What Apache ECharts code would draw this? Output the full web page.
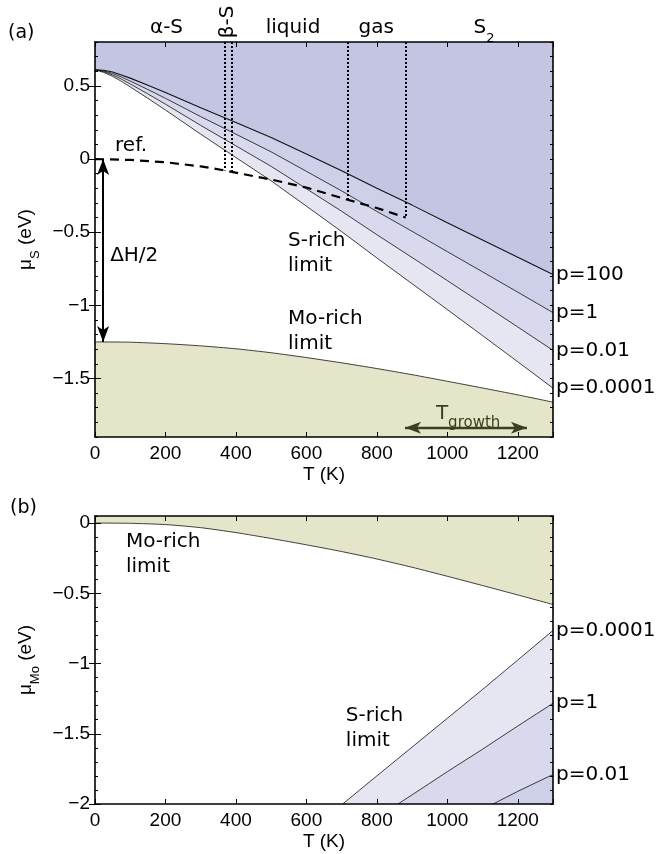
<!DOCTYPE html>
<html>
<head>
<meta charset="utf-8">
<script src="https://cdn.jsdelivr.net/npm/echarts@6/dist/echarts.min.js"></script>
<style>
  html, body { margin: 0; padding: 0; background: #fff; }
  #chart { width: 660px; height: 854px; }
</style>
</head>
<body>
<div id="chart"></div>
<script>
// ---- panel (a): sulfur chemical potential vs T ----
var tA = [0, 25, 50, 75, 100, 150, 200, 300, 400, 500, 600, 700, 800, 900, 1000, 1100, 1200, 1300];
var muS_p100   = [0.61, 0.607, 0.595, 0.575, 0.553, 0.505, 0.455, 0.35, 0.25, 0.148, 0.035, -0.08, -0.2, -0.315, -0.435, -0.553, -0.672, -0.79];
var muS_p1     = [0.61, 0.602, 0.585, 0.561, 0.533, 0.475, 0.415, 0.29, 0.17, 0.049, -0.084, -0.218, -0.358, -0.494, -0.633, -0.771, -0.91, -1.05];
var muS_p001   = [0.61, 0.597, 0.575, 0.546, 0.513, 0.445, 0.375, 0.23, 0.09, -0.05, -0.203, -0.357, -0.517, -0.673, -0.831, -0.989, -1.148, -1.308];
var muS_p00001 = [0.61, 0.592, 0.565, 0.531, 0.493, 0.415, 0.335, 0.17, 0.01, -0.149, -0.322, -0.496, -0.676, -0.852, -1.029, -1.207, -1.386, -1.566];

var tRef = [0, 100, 200, 300, 368, 388, 500, 600, 717, 800, 882];
var muS_ref = [0, -0.006, -0.022, -0.05, -0.078, -0.088, -0.14, -0.195, -0.278, -0.335, -0.40];

var tMo = [0, 100, 200, 300, 400, 500, 600, 700, 800, 900, 1000, 1100, 1200, 1300];
var muS_MoRich = [-1.25, -1.252, -1.262, -1.277, -1.297, -1.324, -1.357, -1.393, -1.432, -1.474, -1.519, -1.565, -1.612, -1.662];

var phaseT = [368, 388, 717, 882];
var phaseMu = [-0.078, -0.088, -0.278, -0.40];
var phaseNames = ['α-S', 'β-S', 'liquid', 'gas', 'S2'];

var deltaH2 = -1.25;
var tGrowth = [880, 1226];

// ---- panel (b): molybdenum chemical potential vs T ----
var tB_p00001 = [703, 800, 900, 1000, 1100, 1200, 1300];
var muMo_p00001 = [-2, -1.80, -1.595, -1.39, -1.185, -0.975, -0.765];
var tB_p1 = [860, 900, 1000, 1100, 1200, 1300];
var muMo_p1 = [-2, -1.935, -1.77, -1.61, -1.445, -1.283];
var tB_p001 = [1130, 1200, 1300];
var muMo_p001 = [-2, -1.91, -1.79];
var muMo_MoRich = [0, -0.002, -0.011, -0.033, -0.068, -0.11, -0.155, -0.203, -0.256, -0.315, -0.379, -0.445, -0.512, -0.58];

var yTicksA = [0.5, 0, -0.5, -1, -1.5];
var yTicksB = [0, -0.5, -1, -1.5, -2];

function zip(t, v) { return t.map(function (x, i) { return [x, v[i]]; }); }
function minus(v) { return String(v).replace('-', '\u2212'); }

var band = ['#e6e6f3', '#d9d9ed', '#cecfe8', '#c4c5e3'];
var olive = '#e5e6c9';
var tickFont = 'Liberation Sans';
var noteFont = 'DejaVu Sans';

function xAxes(g) {
  var base = {
    gridIndex: g, type: 'value', min: 0, max: 1300, interval: 200, z: 10,
    axisLine: { show: true, onZero: false, lineStyle: { color: '#000', width: 1.6 } },
    axisTick: { inside: true, length: 5, lineStyle: { color: '#000', width: 1 } },
    splitLine: { show: false }
  };
  var bottom = Object.assign({}, base, {
    position: 'bottom',
    axisLabel: { fontSize: 19, fontFamily: tickFont, color: '#000', margin: 7,
      formatter: function (v) { return v % 200 === 0 ? String(v) : ''; } },
    name: 'T (K)', nameLocation: 'middle', nameGap: 28,
    nameTextStyle: { fontSize: 19, fontFamily: tickFont, color: '#000' }
  });
  var top = Object.assign({}, base, { position: 'top', axisLabel: { show: false } });
  return [bottom, top];
}

function yAxes(g, min, max, labels, name) {
  var base = {
    gridIndex: g, type: 'value', min: min, max: max, interval: 0.1, z: 10,
    axisLine: { show: true, onZero: false, lineStyle: { color: '#000', width: 1.6 } },
    axisTick: { inside: true, length: 3, lineStyle: { color: '#000', width: 1 } },
    splitLine: { show: false }
  };
  var left = Object.assign({}, base, {
    position: 'left',
    axisLabel: { customValues: labels, fontSize: 19, fontFamily: tickFont, color: '#000', margin: 5, formatter: minus },
    name: name, nameLocation: 'middle', nameRotate: 90, nameGap: 48,
    nameTextStyle: {
      fontSize: 19, fontFamily: tickFont, color: '#000',
      rich: {
        m: { fontSize: 19, fontFamily: tickFont, lineHeight: 22, verticalAlign: 'middle' },
        s: { fontSize: 13, fontFamily: tickFont, lineHeight: 32, verticalAlign: 'bottom' }
      }
    }
  });
  var right = Object.assign({}, base, { position: 'right', axisLabel: { show: false } });
  var major = {
    gridIndex: g, type: 'value', min: min, max: max, z: 10,
    axisLine: { show: false }, axisLabel: { show: false }, splitLine: { show: false },
    axisTick: { inside: true, length: 6, customValues: labels, lineStyle: { color: '#000', width: 1 } }
  };
  return [left, right, Object.assign({ position: 'left' }, major), Object.assign({ position: 'right' }, major)];
}

function curve(xi, yi, name, data, fill, origin, width, smooth) {
  return {
    name: name, type: 'line', xAxisIndex: xi, yAxisIndex: yi, data: data,
    symbol: 'none', silent: true, z: 2, smooth: smooth || false,
    lineStyle: { color: '#111', width: width || 0.8 },
    areaStyle: { color: fill, opacity: 1, origin: origin }
  };
}

var dotted = phaseT.map(function (t, i) {
  return [{ coord: [t, 0.8] }, { coord: [t, phaseMu[i]] }];
});

var option = {
  animation: false,
  backgroundColor: '#fff',
  textStyle: { fontFamily: tickFont },
  grid: [
    { left: 95, top: 42, width: 458, height: 395 },
    { left: 95, top: 516, width: 458, height: 288 }
  ],
  xAxis: xAxes(0).concat(xAxes(1)),
  yAxis: yAxes(0, -1.9, 0.8, yTicksA, '{m|μ}{s|S}{m| (eV)}')
    .concat(yAxes(1, -2, 0.05, yTicksB, '{m|μ}{s|Mo}{m| (eV)}')),
  series: [
    curve(0, 0, 'p=0.0001', zip(tA, muS_p00001), band[0], 'end'),
    curve(0, 0, 'p=0.01', zip(tA, muS_p001), band[1], 'end'),
    curve(0, 0, 'p=1', zip(tA, muS_p1), band[2], 'end'),
    curve(0, 0, 'p=100', zip(tA, muS_p100), band[3], 'end', 1.1),
    curve(0, 0, 'Mo-rich', zip(tMo, muS_MoRich), olive, 'start', 0.8, 0.2),
    {
      name: 'ref.', type: 'line', xAxisIndex: 0, yAxisIndex: 0, data: zip(tRef, muS_ref),
      symbol: 'none', silent: true, z: 3,
      lineStyle: { color: '#000', width: 2.2, type: [9, 6] },
      markLine: {
        silent: true, symbol: 'none', label: { show: false },
        lineStyle: { color: '#000', width: 2, type: [2, 2] },
        data: dotted
      }
    },
    {
      name: 'arrows', type: 'line', xAxisIndex: 0, yAxisIndex: 0, data: [], z: 4,
      markLine: {
        silent: true, label: { show: false }, symbol: ['arrow', 'arrow'], symbolSize: [9, 16],
        data: [
          [{ coord: [23, 0], lineStyle: { color: '#000', width: 2, type: 'solid' } },
           { coord: [23, deltaH2] }],
          [{ coord: [tGrowth[0], -1.836], lineStyle: { color: '#3b4120', width: 2.4, type: 'solid' },
             itemStyle: { color: '#3b4120' } },
           { coord: [tGrowth[1], -1.836] }]
        ]
      }
    },
    curve(2, 4, 'b p=0.0001', zip(tB_p00001, muMo_p00001), band[0], 'start'),
    curve(2, 4, 'b p=1', zip(tB_p1, muMo_p1), band[1], 'start'),
    curve(2, 4, 'b p=0.01', zip(tB_p001, muMo_p001), band[2], 'start'),
    curve(2, 4, 'b Mo-rich', zip(tMo, muMo_MoRich), olive, 'end', 0.8, 0.2)
  ]
};

var chart = echarts.init(document.getElementById('chart'));
chart.setOption(option);

function pa(t, v) { return chart.convertToPixel({ xAxisIndex: 0, yAxisIndex: 0 }, [t, v]); }
function pb(t, v) { return chart.convertToPixel({ xAxisIndex: 2, yAxisIndex: 4 }, [t, v]); }
function note(p, text, align, size) {
  return {
    type: 'text', x: p[0], y: p[1], silent: true, z: 100,
    style: { text: text, font: (size || 20) + 'px "' + noteFont + '"', fill: '#000',
      align: align || 'left', verticalAlign: 'middle', lineHeight: 25 }
  };
}

var topY = pa(0, 0.8)[1] - 14;
var g = [];
g.push(note([8, 33], '(a)', 'left', 19));
g.push(note([10, 508], '(b)', 'left', 19));
g.push(note([pa(203, 0)[0], topY], phaseNames[0], 'center'));
g.push({ type: 'text', x: pa(377, 0)[0], y: topY - 6, rotation: Math.PI / 2, silent: true, z: 100,
  style: { text: phaseNames[1], font: '20px "' + noteFont + '"', fill: '#000', align: 'center', verticalAlign: 'middle' } });
g.push(note([pa(562, 0)[0], topY], phaseNames[2], 'center'));
g.push(note([pa(798, 0)[0], topY], phaseNames[3], 'center'));
g.push({ type: 'text', x: pa(1104, 0)[0], y: topY, silent: true, z: 100,
  style: { text: '{a|S}{b|2}', align: 'center', verticalAlign: 'middle', fill: '#000',
    rich: { a: { fontSize: 20, fontFamily: noteFont, lineHeight: 24, verticalAlign: 'middle' },
            b: { fontSize: 13, fontFamily: noteFont, lineHeight: 34, verticalAlign: 'bottom' } } } });

g.push(note(pa(57, 0.089), 'ref.'));
g.push(note(pa(43, -0.664), 'ΔH/2'));
g.push(note(pa(548, -0.647), 'S-rich\nlimit'));
g.push(note(pa(548, -1.175), 'Mo-rich\nlimit'));
g.push({ type: 'text', x: pa(1059, 0)[0], y: pa(0, -1.74)[1], silent: true, z: 100,
  style: { text: '{a|T}{b|growth}', align: 'center', verticalAlign: 'middle', fill: '#3b4120',
    rich: { a: { fontSize: 20, fontFamily: noteFont, lineHeight: 24, verticalAlign: 'middle', fill: '#3b4120' },
            b: { fontSize: 15, fontFamily: noteFont, lineHeight: 34, verticalAlign: 'bottom', fill: '#3b4120' } } } });

var endA = [['p=100', muS_p100], ['p=1', muS_p1], ['p=0.01', muS_p001], ['p=0.0001', muS_p00001]];
endA.forEach(function (e) {
  var p = pa(1300, e[1][e[1].length - 1]);
  g.push(note([p[0] + 3, p[1]], e[0]));
});
var endB = [['p=0.0001', muMo_p00001], ['p=1', muMo_p1], ['p=0.01', muMo_p001]];
endB.forEach(function (e) {
  var p = pb(1300, e[1][e[1].length - 1]);
  g.push(note([p[0] + 3, p[1]], e[0]));
});
g.push(note(pb(88, -0.225), 'Mo-rich\nlimit'));
g.push(note(pb(712, -1.46), 'S-rich\nlimit'));

chart.setOption({ graphic: g });
</script>
</body>
</html>
